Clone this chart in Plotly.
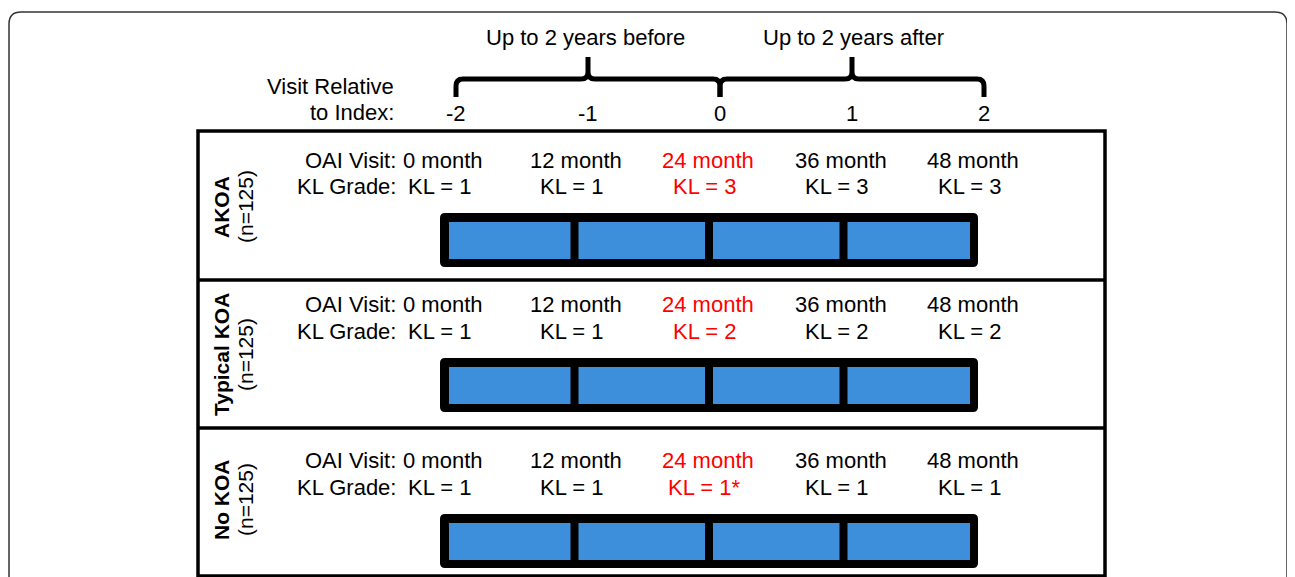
import plotly.graph_objects as go

# ---------------- data ----------------
groups = ["AKOA", "Typical KOA", "No KOA"]
group_n = [125, 125, 125]
relative_index = [-2, -1, 0, 1, 2]
visit_months = [0, 12, 24, 36, 48]
kl_akoa = ["1", "1", "3", "3", "3"]
kl_typical = ["1", "1", "2", "2", "2"]
kl_nokoa = ["1", "1", "1*", "1", "1"]
index_visit = 2
brace_labels = ["Up to 2 years before", "Up to 2 years after"]
kl_by_group = [kl_akoa, kl_typical, kl_nokoa]

# ---------------- layout constants (pixels) ----------------
W, H = 1295, 577
OFF = 8  # page body margin
FONT = "Liberation Sans, Arial, sans-serif"
FS = 22
BLACK = "#000000"
RED = "#ff0000"
BLUE = "#3d8edb"

def idx_x(i):          # relative index -> x
    return 720 + 132 * i

def visit_x(k):        # visit label centre
    return 443 + 132.5 * k

def kl_x(k):
    return 439 + 132.5 * k

def seg_x(k):          # bar segment boundary
    return 440 + 134.5 * k

box_left, box_right = 198, 1105
row_edges = [131, 280, 428, 576]
row_text_y = [(160, 186), (304, 331), (460, 487)]
row_bar_y = [(213, 267), (358, 412), (514, 568)]
row_label_y = [207, 355, 500]

shapes = []
annotations = []

def text(x, y, s, color=BLACK, size=FS, xanchor="center", bold=False, angle=0):
    annotations.append(dict(
        x=x, y=y, xref="x", yref="y", text=("<b>%s</b>" % s) if bold else s,
        showarrow=False, xanchor=xanchor, yanchor="middle", textangle=angle,
        font=dict(family=FONT, size=size, color=color)))

def rrect(x0, y0, x1, y1, r):
    return (f"M {x0+r},{y0} L {x1-r},{y0} Q {x1},{y0} {x1},{y0+r} "
            f"L {x1},{y1-r} Q {x1},{y1} {x1-r},{y1} L {x0+r},{y1} "
            f"Q {x0},{y1} {x0},{y1-r} L {x0},{y0+r} Q {x0},{y0} {x0+r},{y0} Z")

# outer rounded frame
shapes.append(dict(type="path", path=rrect(9, 12, 1287, 640, 12), xref="x", yref="y",
                   line=dict(color="#333333", width=1.5), fillcolor="rgba(0,0,0,0)"))

# ---------------- header ----------------
text(396, 86, "Visit Relative", xanchor="right")
text(396, 112, "to Index:", xanchor="right")
for r in relative_index:
    text(idx_x(r), 113, str(r))

# braces
def brace(xa, xb, tip):
    yb, yh, yt = 97, 79, 57
    q = 7
    p = (f"M {xa},{yb} L {xa},{yh+q} Q {xa},{yh} {xa+q},{yh} L {tip-q},{yh} "
         f"Q {tip},{yh} {tip},{yh-q} L {tip},{yt} L {tip},{yh-q} Q {tip},{yh} {tip+q},{yh} "
         f"L {xb-q},{yh} Q {xb},{yh} {xb},{yh+q} L {xb},{yb}")
    shapes.append(dict(type="path", path=p, xref="x", yref="y",
                       line=dict(color=BLACK, width=5)))

brace(idx_x(relative_index[0]), idx_x(0), idx_x(-1))
brace(idx_x(0), idx_x(relative_index[-1]), idx_x(1))
text(idx_x(-1) - 3, 37, brace_labels[0])
text(idx_x(1) + 1, 37, brace_labels[1])

# ---------------- main box ----------------
shapes.append(dict(type="rect", x0=box_left, x1=box_right, y0=row_edges[0], y1=row_edges[-1],
                   xref="x", yref="y", line=dict(color=BLACK, width=3.5)))
for y in row_edges[1:-1]:
    shapes.append(dict(type="line", x0=box_left, x1=box_right, y0=y, y1=y,
                       xref="x", yref="y", line=dict(color=BLACK, width=3.5)))

for g, name in enumerate(groups):
    ty1, ty2 = row_text_y[g]
    text(221, row_label_y[g], name, size=21, bold=True, angle=-90)
    text(245, row_label_y[g], "(n=%d)" % group_n[g], size=21, angle=-90)
    text(398, ty1, "OAI Visit:", xanchor="right")
    text(398, ty2, "KL Grade:", xanchor="right")
    for k, m in enumerate(visit_months):
        col = RED if k == index_visit else BLACK
        text(visit_x(k), ty1, "%d month" % m, color=col)
        text(kl_x(k), ty2, "KL = %s" % kl_by_group[g][k], color=col)
    # timeline bar
    by0, by1 = row_bar_y[g]
    shapes.append(dict(type="path", path=rrect(seg_x(0), by0, seg_x(len(visit_months) - 1), by1, 5),
                       xref="x", yref="y", line=dict(width=0), fillcolor=BLACK))
    for k in range(len(visit_months) - 1):
        xa = seg_x(k) + (9 if k == 0 else 4)
        xb = seg_x(k + 1) - (8 if k == len(visit_months) - 2 else 4)
        shapes.append(dict(type="rect", x0=xa, x1=xb, y0=by0 + 9, y1=by1 - 8,
                           xref="x", yref="y", line=dict(width=0), fillcolor=BLUE))

fig = go.Figure()
fig.update_layout(
    width=W - OFF, height=H - OFF, margin=dict(l=0, r=0, t=0, b=0),
    paper_bgcolor="white", plot_bgcolor="white",
    xaxis=dict(range=[OFF, W], visible=False, fixedrange=True),
    yaxis=dict(range=[H, OFF], visible=False, fixedrange=True),
    shapes=shapes, annotations=annotations, showlegend=False,
)
fig.write_html("out.html", config={"displayModeBar": False})
